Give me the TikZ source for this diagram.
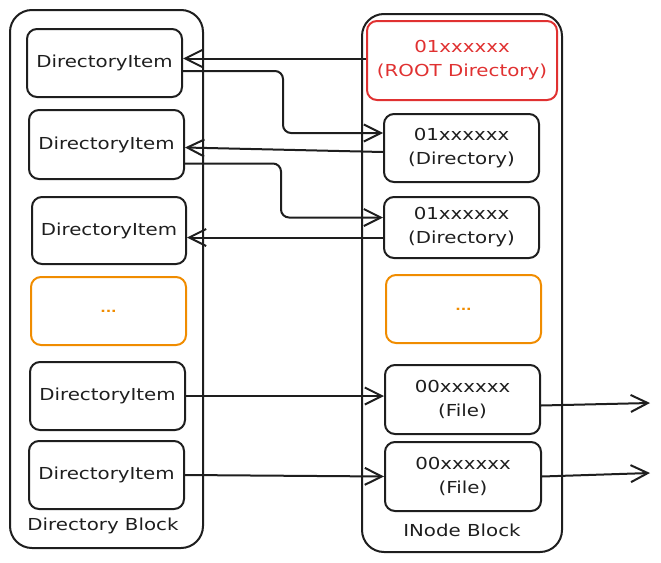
\documentclass[tikz,border=0pt]{standalone}
\usepackage{fontspec}
\setmainfont[FakeStretch=1.2]{DejaVu Sans}
\usetikzlibrary{arrows.meta}
\definecolor{xred}{HTML}{E03131}
\definecolor{xorange}{HTML}{F08C00}
\definecolor{xink}{HTML}{1E1E1E}
\tikzset{
  box/.style={draw=xink, line width=2pt, rounded corners=10pt, inner sep=0pt, align=center,
    font=\fontsize{16.5}{24}\selectfont, text=xink},
  container/.style={draw=xink, line width=2pt, rounded corners=22pt, inner sep=0pt},
  rootbox/.style={box, draw=xred, text=xred},
  dotsbox/.style={box, draw=xorange, text=xorange, font=\fontsize{12}{14}\bfseries\selectfont},
  lbl/.style={font=\fontsize{16.5}{20}\selectfont, text=xink},
  arr/.style={draw=xink, line width=2pt, -{Straight Barb[length=17pt,width=17pt,line width=2pt]}},
}
\begin{document}
\begin{tikzpicture}[x=1pt,y=-1pt]
\useasboundingbox (0,0) rectangle (661,562);
% containers
\node[container, minimum width=193pt, minimum height=538pt] (lc) at (106.5,279) {};
\node[container, minimum width=200pt, minimum height=538pt] (rc) at (462,283) {};
% left items
\node[box, minimum width=155pt, minimum height=68pt] (i1) at (104.5,63) {DirectoryItem};
\node[box, minimum width=155pt, minimum height=69pt] (i2) at (106.5,144.5) {DirectoryItem};
\node[box, minimum width=154pt, minimum height=67pt] (i3) at (109,230.5) {DirectoryItem};
\node[dotsbox, minimum width=155pt, minimum height=68pt] (i4) at (108.5,311) {...};
\node[box, minimum width=155pt, minimum height=68pt] (i5) at (107.5,396) {DirectoryItem};
\node[box, minimum width=155pt, minimum height=68pt] (i6) at (106.5,475) {DirectoryItem};
\node[lbl] (lbl1) at (103,526) {Directory Block};
% right items
\node[rootbox, minimum width=190pt, minimum height=79pt] (root) at (462,60.5) {01xxxxxx\\(ROOT Directory)};
\node[box, minimum width=155pt, minimum height=68pt] (d1) at (461.5,148) {01xxxxxx\\(Directory)};
\node[box, minimum width=155pt, minimum height=61pt] (d2) at (461.5,227.5) {01xxxxxx\\(Directory)};
\node[dotsbox, minimum width=155pt, minimum height=68pt] (o2) at (463.5,309) {...};
\node[box, minimum width=155pt, minimum height=69pt] (f1) at (462.5,399.5) {00xxxxxx\\(File)};
\node[box, minimum width=156pt, minimum height=69pt] (f2) at (463,476.5) {00xxxxxx\\(File)};
\node[lbl] (lbl2) at (462,530) {INode Block};
% connector end points
\coordinate (out1) at (650,403);
\coordinate (out2) at (650,473);
\coordinate (rs) at ([yshift=2pt]root.west);
\coordinate (ds2) at ([yshift=-10pt]d2.west);
% connectors
\draw[arr] (rs) -- (i1.east |- rs);
\draw[arr, rounded corners=8pt] ([yshift=-8pt]i1.east) -- ++(100,0) |- ([yshift=15pt]d1.west);
\draw[arr] ([yshift=-4pt]d1.west) -- ([yshift=-3pt]i2.east);
\draw[arr, rounded corners=8pt] ([yshift=-19pt]i2.east) -- ++(96,0) |- ([yshift=10pt]d2.west);
\draw[arr] (ds2) -- (i3.east |- ds2);
\draw[arr] (i5.east) -- (f1.west |- i5.east);
\draw[arr] (i6.east) -- (f2.west);
\draw[arr] ([yshift=-6pt]f1.east) -- (out1);
\draw[arr] (f2.east) -- (out2);
\end{tikzpicture}
\end{document}
